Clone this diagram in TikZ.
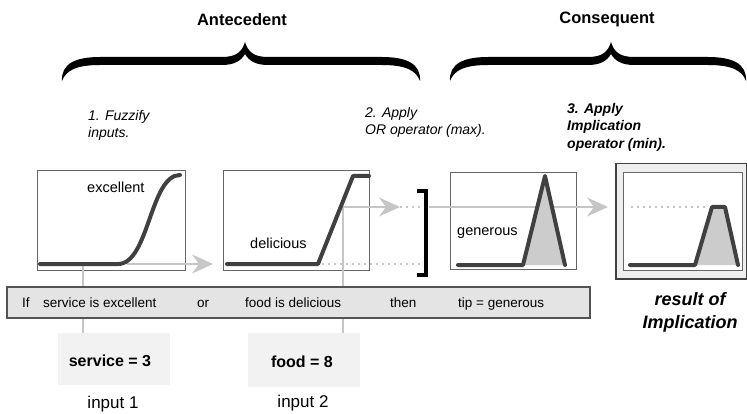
\documentclass[tikz,border=0pt]{standalone}
\usepackage{fontspec}
\setmainfont{Liberation Sans}
\usetikzlibrary{arrows.meta}
\definecolor{curvec}{HTML}{404040}
\definecolor{boxline}{HTML}{666666}
\definecolor{arrgray}{HTML}{C6C6C6}
\definecolor{fillg}{HTML}{CCCCCC}
\definecolor{barfill}{HTML}{E4E4E4}
\definecolor{inbox}{HTML}{F2F2F2}
\definecolor{outerfill}{HTML}{EEEEEE}
\tikzset{
  hdr/.style={inner sep=0pt, font=\fontsize{16.5}{19}\selectfont\bfseries},
  stepit/.style={inner sep=0pt, anchor=north west, align=left, font=\fontsize{14}{17.5}\selectfont\itshape},
  stepbf/.style={inner sep=0pt, anchor=north west, align=left, font=\fontsize{14}{17.5}\selectfont\bfseries\itshape},
  mflbl/.style={inner sep=0pt, anchor=base west, font=\fontsize{14.5}{17}\selectfont},
  rulelbl/.style={inner sep=0pt, anchor=base west, font=\fontsize{13.5}{16}\selectfont},
  plotbox/.style={draw=boxline, line width=1pt, fill=white},
  mfcurve/.style={draw=curvec, line width=4pt, line cap=round, line join=round},
  grayline/.style={draw=arrgray, line width=2pt},
  grayarrow/.style={draw=arrgray, line width=2pt, -{Stealth[length=21pt,width=19pt,inset=7pt]}},
  graydots/.style={draw=arrgray, line width=2pt, dash pattern=on 2pt off 4pt},
  inputbox/.style={fill=inbox, draw=none},
  inputval/.style={inner sep=0pt, font=\fontsize{16}{19}\selectfont\bfseries},
  inputlbl/.style={inner sep=0pt, font=\fontsize{17}{20}\selectfont},
}
\begin{document}
\begin{tikzpicture}[x=1pt,y=-1pt]
\clip (0,0) rectangle (747,414);
\fill[white] (0,0) rectangle (747,414);

% braces
\fill[black] (62,81) .. controls (61,64) and (75,57) .. (100,57) -- (222,57) .. controls (236,57) and (242,52) .. (245,42) .. controls (248,52) and (254,57) .. (268,57) -- (382,57) .. controls (407,57) and (421,64) .. (420,81) .. controls (416,70) and (405,65) .. (382,65) -- (268,65) .. controls (256,65) and (249,61) .. (245,54) .. controls (241,61) and (234,65) .. (222,65) -- (100,65) .. controls (77,65) and (66,70) .. (62,81) -- cycle;
\fill[black] (450,81) .. controls (449,64) and (463,57) .. (488,57) -- (588,57) .. controls (602,57) and (608,52) .. (611,42) .. controls (614,52) and (620,57) .. (634,57) -- (708,57) .. controls (733,57) and (747,64) .. (746,81) .. controls (742,70) and (731,65) .. (708,65) -- (634,65) .. controls (622,65) and (615,61) .. (611,54) .. controls (607,61) and (600,65) .. (588,65) -- (488,65) .. controls (465,65) and (454,70) .. (450,81) -- cycle;

\node[hdr] (ant) at (242,20) {Antecedent};
\node[hdr] (con) at (607,19) {Consequent};

\node[stepit] (s1) at (88,110) {1. Fuzzify\\inputs.};
\node[stepit] (s2) at (365,107) {2. Apply\\OR operator (max).};
\node[stepbf] (s3) at (567,103) {3. Apply\\Implication\\operator (min).};

% plot boxes
\node[plotbox, inner sep=0pt, minimum width=148pt, minimum height=100pt, anchor=north west] (b1) at (37,170) {};
\node[plotbox, inner sep=0pt, minimum width=146pt, minimum height=100pt, anchor=north west] (b2) at (223,170) {};
\node[plotbox, inner sep=0pt, minimum width=126pt, minimum height=97pt, anchor=north west] (b3) at (450,172) {};
\node[draw=curvec, line width=1.5pt, fill=outerfill, inner sep=0pt, minimum width=131pt, minimum height=115pt, anchor=north west] (b4o) at (615,163) {};
\node[draw=boxline, line width=1pt, fill=white, inner sep=0pt, minimum width=119pt, minimum height=98pt, anchor=north west] (b4) at (623,172) {};

% coordinates
\coordinate (a1s) at (127,264);
\coordinate (a1e) at (213,264);
\coordinate (v1t) at (83,264);
\coordinate (v1b) at (83,333);
\coordinate (v2t) at (343,207);
\coordinate (v2b) at (343,333);
\coordinate (a2e) at (400,207);
\coordinate (d2e) at (422,207);
\coordinate (d1s) at (322,264);
\coordinate (d1e) at (420,264);
\coordinate (a3s) at (429,207);
\coordinate (a3e) at (608,207);
\coordinate (d4s) at (631,207);
\coordinate (d4e) at (706,207);

% gray guide lines
\draw[grayline] (v1t) -- (v1b);
\draw[grayline] (v2t) -- (v2b);
\draw[graydots] (d1s) -- (d1e);
\draw[grayarrow] (a1s) -- (a1e);
\draw[grayarrow] (v2t) -- (a2e);
\draw[graydots] (a2e) -- (d2e);
\draw[grayarrow] (a3s) -- (a3e);
\draw[graydots] (d4s) -- (d4e);

% membership functions
\draw[mfcurve] (40,264) -- (118,264) .. controls (149,264) and (150,175) .. (180,175);
\draw[mfcurve] (227,264) -- (318,264) -- (353,176) -- (369,176);
\fill[fillg] (523,265) -- (545,176) -- (565,265) -- cycle;
\draw[mfcurve] (458,265) -- (523,265) -- (545,176) -- (565,265);
\fill[fillg] (695,265) -- (712,207) -- (725,207) -- (738,265) -- cycle;
\draw[mfcurve] (630,265) -- (695,265) -- (712,207) -- (725,207) -- (738,265);

% bracket
\draw[black, line width=4pt] (417,191) -- (426,191) -- (426,275) -- (417,275);

\node[mflbl] (exc) at (87,193) {excellent};
\node[mflbl] (del) at (250,249) {delicious};
\node[mflbl] (gen) at (457,236) {generous};

% rule bar
\node[draw=curvec!90, line width=1.5pt, fill=barfill, inner sep=0pt, minimum width=583pt, minimum height=31pt, anchor=north west] (bar) at (6,286) {};
\node[rulelbl] (rif) at (22,307) {If};
\node[rulelbl] (r1) at (43,307) {service is excellent};
\node[rulelbl] (ror) at (197,307) {or};
\node[rulelbl] (r2) at (245,307) {food is delicious};
\node[rulelbl] (rthen) at (390,307) {then};
\node[rulelbl] (r3) at (458,307) {tip = generous};

% inputs
\node[inputbox, inner sep=0pt, minimum width=112pt, minimum height=52pt, anchor=north west] (ib1) at (58,333) {};
\node[inputbox, inner sep=0pt, minimum width=112pt, minimum height=54pt, anchor=north west] (ib2) at (248,333) {};
\node[inputval] (sv) at (110,361) {service = 3};
\node[inputval] (fv) at (302,362) {food = 8};
\node[inputlbl] (in1) at (113,404) {input 1};
\node[inputlbl] (in2) at (303,403) {input 2};

\node[inner sep=0pt, anchor=north, align=center, font=\fontsize{18}{23}\selectfont\bfseries\itshape] (res) at (690,292) {result of\\Implication};
\end{tikzpicture}
\end{document}
